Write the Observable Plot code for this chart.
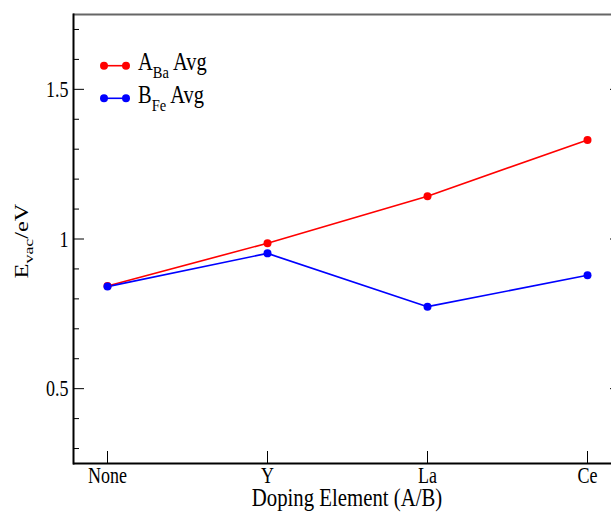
<!DOCTYPE html>
<html>
<head>
<meta charset="utf-8">
<script src="https://cdn.jsdelivr.net/npm/d3@7"></script>
<script src="https://cdn.jsdelivr.net/npm/@observablehq/plot@0.6"></script>
<style>
  html, body { margin: 0; padding: 0; background: #fff; }
  #chart { position: relative; width: 611px; height: 512px; overflow: hidden; }
  svg { font-family: "Liberation Serif", "Times New Roman", serif; }
</style>
</head>
<body>
<div id="chart"></div>
<script>
// ---- data ----
const dopants = ["None", "Y", "La", "Ce"];
const aBaAvg = [0.843, 0.986, 1.143, 1.331];
const bFeAvg = [0.841, 0.952, 0.774, 0.879];
const seriesNames = ["A_Ba Avg", "B_Fe Avg"];
const seriesColors = ["#ff0000", "#0000ff"];
const majorTicks = [0.5, 1, 1.5];
const minorTicks = [0.3, 0.4, 0.6, 0.7, 0.8, 0.9, 1.1, 1.2, 1.3, 1.4, 1.6, 1.7];
const yDomain = [0.25, 1.75];

const rows = [];
dopants.forEach((d, i) => rows.push({dopant: d, value: aBaAvg[i], series: seriesNames[0]}));
dopants.forEach((d, i) => rows.push({dopant: d, value: bFeAvg[i], series: seriesNames[1]}));

// the original picture is stretched vertically; text is drawn tall and narrow
const K = 1.32;            // vertical / horizontal stretch
const tickF = 18;          // tick label size (horizontal metrics)

const W = 611, H = 512;
const plot = Plot.plot({
  width: W,
  height: H,
  marginLeft: 73,
  marginRight: 0,
  marginTop: 14,
  marginBottom: 49,
  style: {fontFamily: "Liberation Serif, Times New Roman, serif", background: "#fff"},
  x: {type: "point", domain: dopants, range: [106, 588], padding: 0},
  y: {domain: yDomain},
  color: {domain: seriesNames, range: seriesColors},
  marks: [
    Plot.ruleY([yDomain[1]], {stroke: "#666", strokeWidth: 2}),
    Plot.ruleY([yDomain[0]], {stroke: "#000", strokeWidth: 2}),
    Plot.frame({anchor: "left", stroke: "#000", strokeWidth: 2}),
    Plot.axisY(majorTicks, {anchor: "left", tickSize: 11, insetLeft: 11, text: null, label: null, stroke: "#000"}),
    Plot.axisY(minorTicks, {anchor: "left", tickSize: 6, insetLeft: 6, text: null, label: null, stroke: "#000"}),
    Plot.axisY(majorTicks, {anchor: "left", tickSize: 0, tickPadding: 5, tickFormat: d => String(d), label: null, fontSize: tickF * K, fill: "#000"}),
    Plot.axisY(majorTicks, {anchor: "right", tickSize: 2, insetRight: 2, text: null, label: null, stroke: "#000"}),
    Plot.axisX({anchor: "bottom", tickSize: 12, insetBottom: 12, text: null, label: null, stroke: "#000"}),
    Plot.axisX({anchor: "bottom", tickSize: 0, tickPadding: 3, label: null, fontSize: tickF * K, fill: "#000"}),
    Plot.line(rows, {x: "dopant", y: "value", z: "series", stroke: "series", strokeWidth: 1.6}),
    Plot.dot(rows, {x: "dopant", y: "value", fill: "series", r: 4})
  ]
});
document.getElementById("chart").appendChild(plot);

const svg = d3.select(plot);
const font = "Liberation Serif, Times New Roman, serif";

// narrow the tick labels horizontally (glyphs compressed to the picture's proportions)
svg.selectAll("g[aria-label$='tick label'] text").each(function () {
  const len = this.getComputedTextLength();
  if (len > 0) {
    this.setAttribute("textLength", (len / K).toFixed(2));
    this.setAttribute("lengthAdjust", "spacingAndGlyphs");
  }
});

// y-axis title (rotated; stretched along its length)
const yt = svg.append("text")
  .attr("transform", `translate(28,241) rotate(-90) scale(${K},1)`)
  .attr("text-anchor", "middle")
  .attr("font-family", font).attr("font-weight", 400).attr("font-size", 18.5).attr("fill", "#000");
yt.append("tspan").text("E");
yt.append("tspan").attr("font-size", 13.5).attr("dy", 5).text("vac");
yt.append("tspan").attr("dy", -5).text("/eV");

// x-axis title
const XF = 20.8, XK = 1.2;
svg.append("text")
  .attr("transform", `translate(347,506) scale(${1 / XK},1)`)
  .attr("text-anchor", "middle")
  .attr("font-family", font).attr("font-size", XF * XK).attr("fill", "#000")
  .text("Doping Element (A/B)");

// legend
const legendItems = [
  {main: "A", sub: "Ba", rest: " Avg", color: seriesColors[0]},
  {main: "B", sub: "Fe", rest: " Avg", color: seriesColors[1]}
];
const LK = 1.2, LF = 20.5;
legendItems.forEach((it, i) => {
  const y = 65.7 + i * 32.6;
  const g = svg.append("g");
  g.append("line").attr("x1", 104).attr("x2", 126).attr("y1", y).attr("y2", y)
    .attr("stroke", it.color).attr("stroke-width", 1.6);
  g.append("circle").attr("cx", 104).attr("cy", y).attr("r", 4).attr("fill", it.color);
  g.append("circle").attr("cx", 126).attr("cy", y).attr("r", 4).attr("fill", it.color);
  const t = g.append("text")
    .attr("transform", `translate(138,${y + 4.5}) scale(${1 / LK},1)`)
    .attr("text-anchor", "start")
    .attr("font-family", font).attr("font-size", LF * LK).attr("fill", "#000");
  t.append("tspan").text(it.main);
  t.append("tspan").attr("font-size", 14.5 * LK).attr("dy", 8).text(it.sub);
  t.append("tspan").attr("dy", -8).text(it.rest);
});
</script>
</body>
</html>
